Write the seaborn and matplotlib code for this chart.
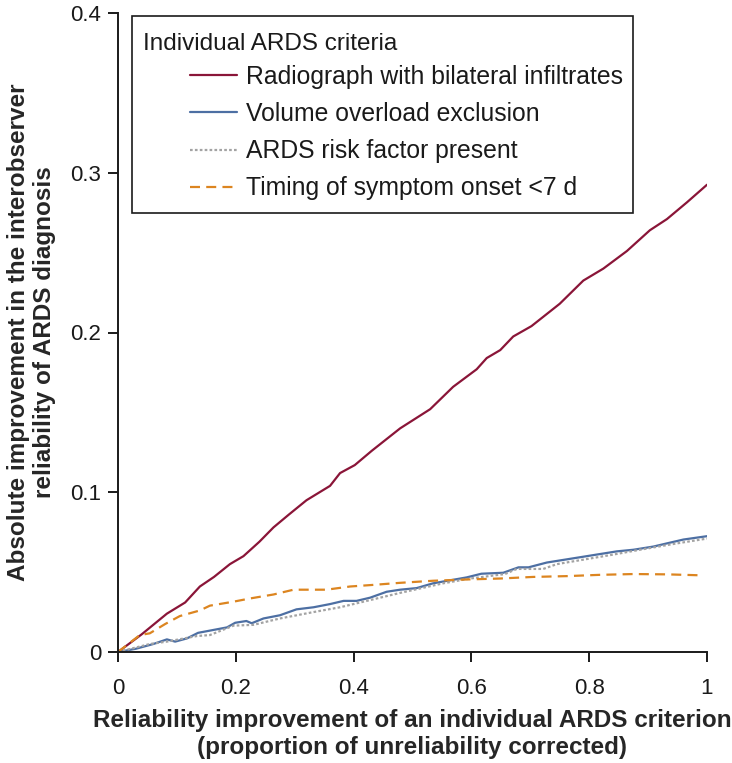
import numpy as np
import pandas as pd
import matplotlib
matplotlib.use("Agg")
import matplotlib.pyplot as plt
import seaborn as sns
from matplotlib.patches import Rectangle
from matplotlib.lines import Line2D

# Data
radio_x = [0, 0.04, 0.083, 0.114, 0.139, 0.163, 0.19, 0.213, 0.24, 0.264, 0.29, 0.32,
           0.36, 0.377, 0.402, 0.431, 0.455, 0.479, 0.53, 0.569, 0.609, 0.626, 0.649,
           0.671, 0.702, 0.75, 0.79, 0.824, 0.864, 0.903, 0.932, 0.966, 1.0]
radio_y = [0, 0.011, 0.024, 0.031, 0.041, 0.047, 0.055, 0.060, 0.069, 0.078, 0.086, 0.095,
           0.104, 0.112, 0.117, 0.126, 0.133, 0.140, 0.152, 0.166, 0.177, 0.184, 0.189,
           0.1975, 0.204, 0.218, 0.2325, 0.240, 0.251, 0.264, 0.271, 0.2815, 0.2925]

volume_x = [0, 0.03, 0.06, 0.083, 0.097, 0.117, 0.136, 0.162, 0.185, 0.199, 0.218, 0.227,
            0.247, 0.275, 0.303, 0.332, 0.36, 0.383, 0.405, 0.428, 0.456, 0.479, 0.507,
            0.535, 0.592, 0.617, 0.654, 0.68, 0.697, 0.728, 0.762, 0.796, 0.847, 0.875,
            0.909, 0.932, 0.96, 1.0]
volume_y = [0, 0.002, 0.005, 0.0079, 0.0065, 0.0085, 0.012, 0.0138, 0.0154, 0.0183, 0.0194,
            0.018, 0.021, 0.023, 0.0267, 0.028, 0.030, 0.032, 0.032, 0.034, 0.0377, 0.039,
            0.040, 0.043, 0.0467, 0.049, 0.0496, 0.053, 0.053, 0.056, 0.058, 0.060, 0.063,
            0.064, 0.066, 0.068, 0.0704, 0.0725]

risk_x = [0, 0.054, 0.083, 0.134, 0.156, 0.196, 0.23, 0.275, 0.332, 0.377, 0.428, 0.479,
          0.552, 0.598, 0.657, 0.677, 0.722, 0.745, 0.841, 0.886, 0.949, 1.0]
risk_y = [0, 0.005, 0.0065, 0.010, 0.0106, 0.0165, 0.017, 0.021, 0.025, 0.028, 0.0325, 0.037,
          0.043, 0.046, 0.0488, 0.052, 0.052, 0.055, 0.061, 0.064, 0.068, 0.071]

timing_x = [0, 0.037, 0.054, 0.08, 0.105, 0.139, 0.156, 0.196, 0.224, 0.264, 0.298, 0.354,
            0.394, 0.433, 0.479, 0.535, 0.592, 0.649, 0.705, 0.762, 0.818, 0.875, 0.932, 0.99]
timing_y = [0, 0.0106, 0.0117, 0.0175, 0.0225, 0.026, 0.029, 0.0315, 0.0335, 0.036, 0.039,
            0.039, 0.041, 0.042, 0.0433, 0.0446, 0.0454, 0.046, 0.047, 0.0475, 0.0483, 0.0488,
            0.0486, 0.048]

labels = ["Radiograph with bilateral infiltrates", "Volume overload exclusion",
          "ARDS risk factor present", "Timing of symptom onset <7 d"]
x_ticks = [0, 0.2, 0.4, 0.6, 0.8, 1]
x_tick_labels = ["0", "0.2", "0.4", "0.6", "0.8", "1"]
y_ticks = [0, 0.1, 0.2, 0.3, 0.4]
y_tick_labels = ["0", "0.1", "0.2", "0.3", "0.4"]

sns.set_style("white")
plt.rcParams["font.family"] = ["Liberation Sans", "DejaVu Sans"]

W, H = 732, 763
fig = plt.figure(figsize=(W / 100, H / 100), dpi=100)
ax = fig.add_axes([118 / W, 1 - 652 / H, 589 / W, 639 / H])

series = [
    (radio_x, radio_y, "#8a1538", "-"),
    (volume_x, volume_y, "#4d6fa3", "-"),
    (risk_x, risk_y, "#a3a3a3", (0, (1.2, 1.0))),
    (timing_x, timing_y, "#dc8520", (0, (4.5, 2.8))),
]
handles = []
for (xs, ys, color, ls), label in zip(series, labels):
    df = pd.DataFrame({"x": xs, "y": ys})
    sns.lineplot(data=df, x="x", y="y", ax=ax, color=color, linewidth=1.6,
                 linestyle=ls, sort=False, estimator=None)
    handles.append(Line2D([], [], color=color, linewidth=1.6, linestyle=ls))

ax.set_xlim(0, 1)
ax.set_ylim(0, 0.4)
ax.set_xticks(x_ticks, x_tick_labels)
ax.set_yticks(y_ticks, y_tick_labels)
ax.tick_params(axis="both", direction="out", length=7, width=1.4, labelsize=16,
               colors="#1a1a1a", bottom=True, left=True)
ax.tick_params(axis="x", pad=12)
ax.tick_params(axis="y", pad=5)
sns.despine(ax=ax)
for sp in ["left", "bottom"]:
    ax.spines[sp].set_linewidth(1.4)
    ax.spines[sp].set_color("#1a1a1a")

ax.set_xlabel("Reliability improvement of an individual ARDS criterion\n"
              "(proportion of unreliability corrected)",
              fontsize=17.5, fontweight="bold", labelpad=7, linespacing=1.2)
ax.set_ylabel("Absolute improvement in the interobserver\n"
              "reliability of ARDS diagnosis",
              fontsize=17.5, fontweight="bold", labelpad=10, linespacing=1.2)

# legend box with left-aligned title and indented entries
box = Rectangle((132 / W, 1 - 213 / H), (633 - 132) / W, (213 - 16) / H,
                transform=fig.transFigure, facecolor="white", edgecolor="#1a1a1a",
                linewidth=1.2, zorder=5)
fig.patches.append(box)
fig.text(143 / W, 1 - 44 / H, "Individual ARDS criteria", fontsize=17.5,
         va="center", ha="left", color="#1a1a1a", zorder=6)
leg = fig.legend(handles, labels, loc="upper left",
                 bbox_to_anchor=(190 / W, 1 - 65 / H), frameon=False,
                 fontsize=17.8, handlelength=1.9, handletextpad=0.35,
                 labelspacing=0.53, borderpad=0, borderaxespad=0)
leg.set_zorder(7)
for t in leg.get_texts():
    t.set_color("#1a1a1a")

fig.savefig("out.png", dpi=100)
